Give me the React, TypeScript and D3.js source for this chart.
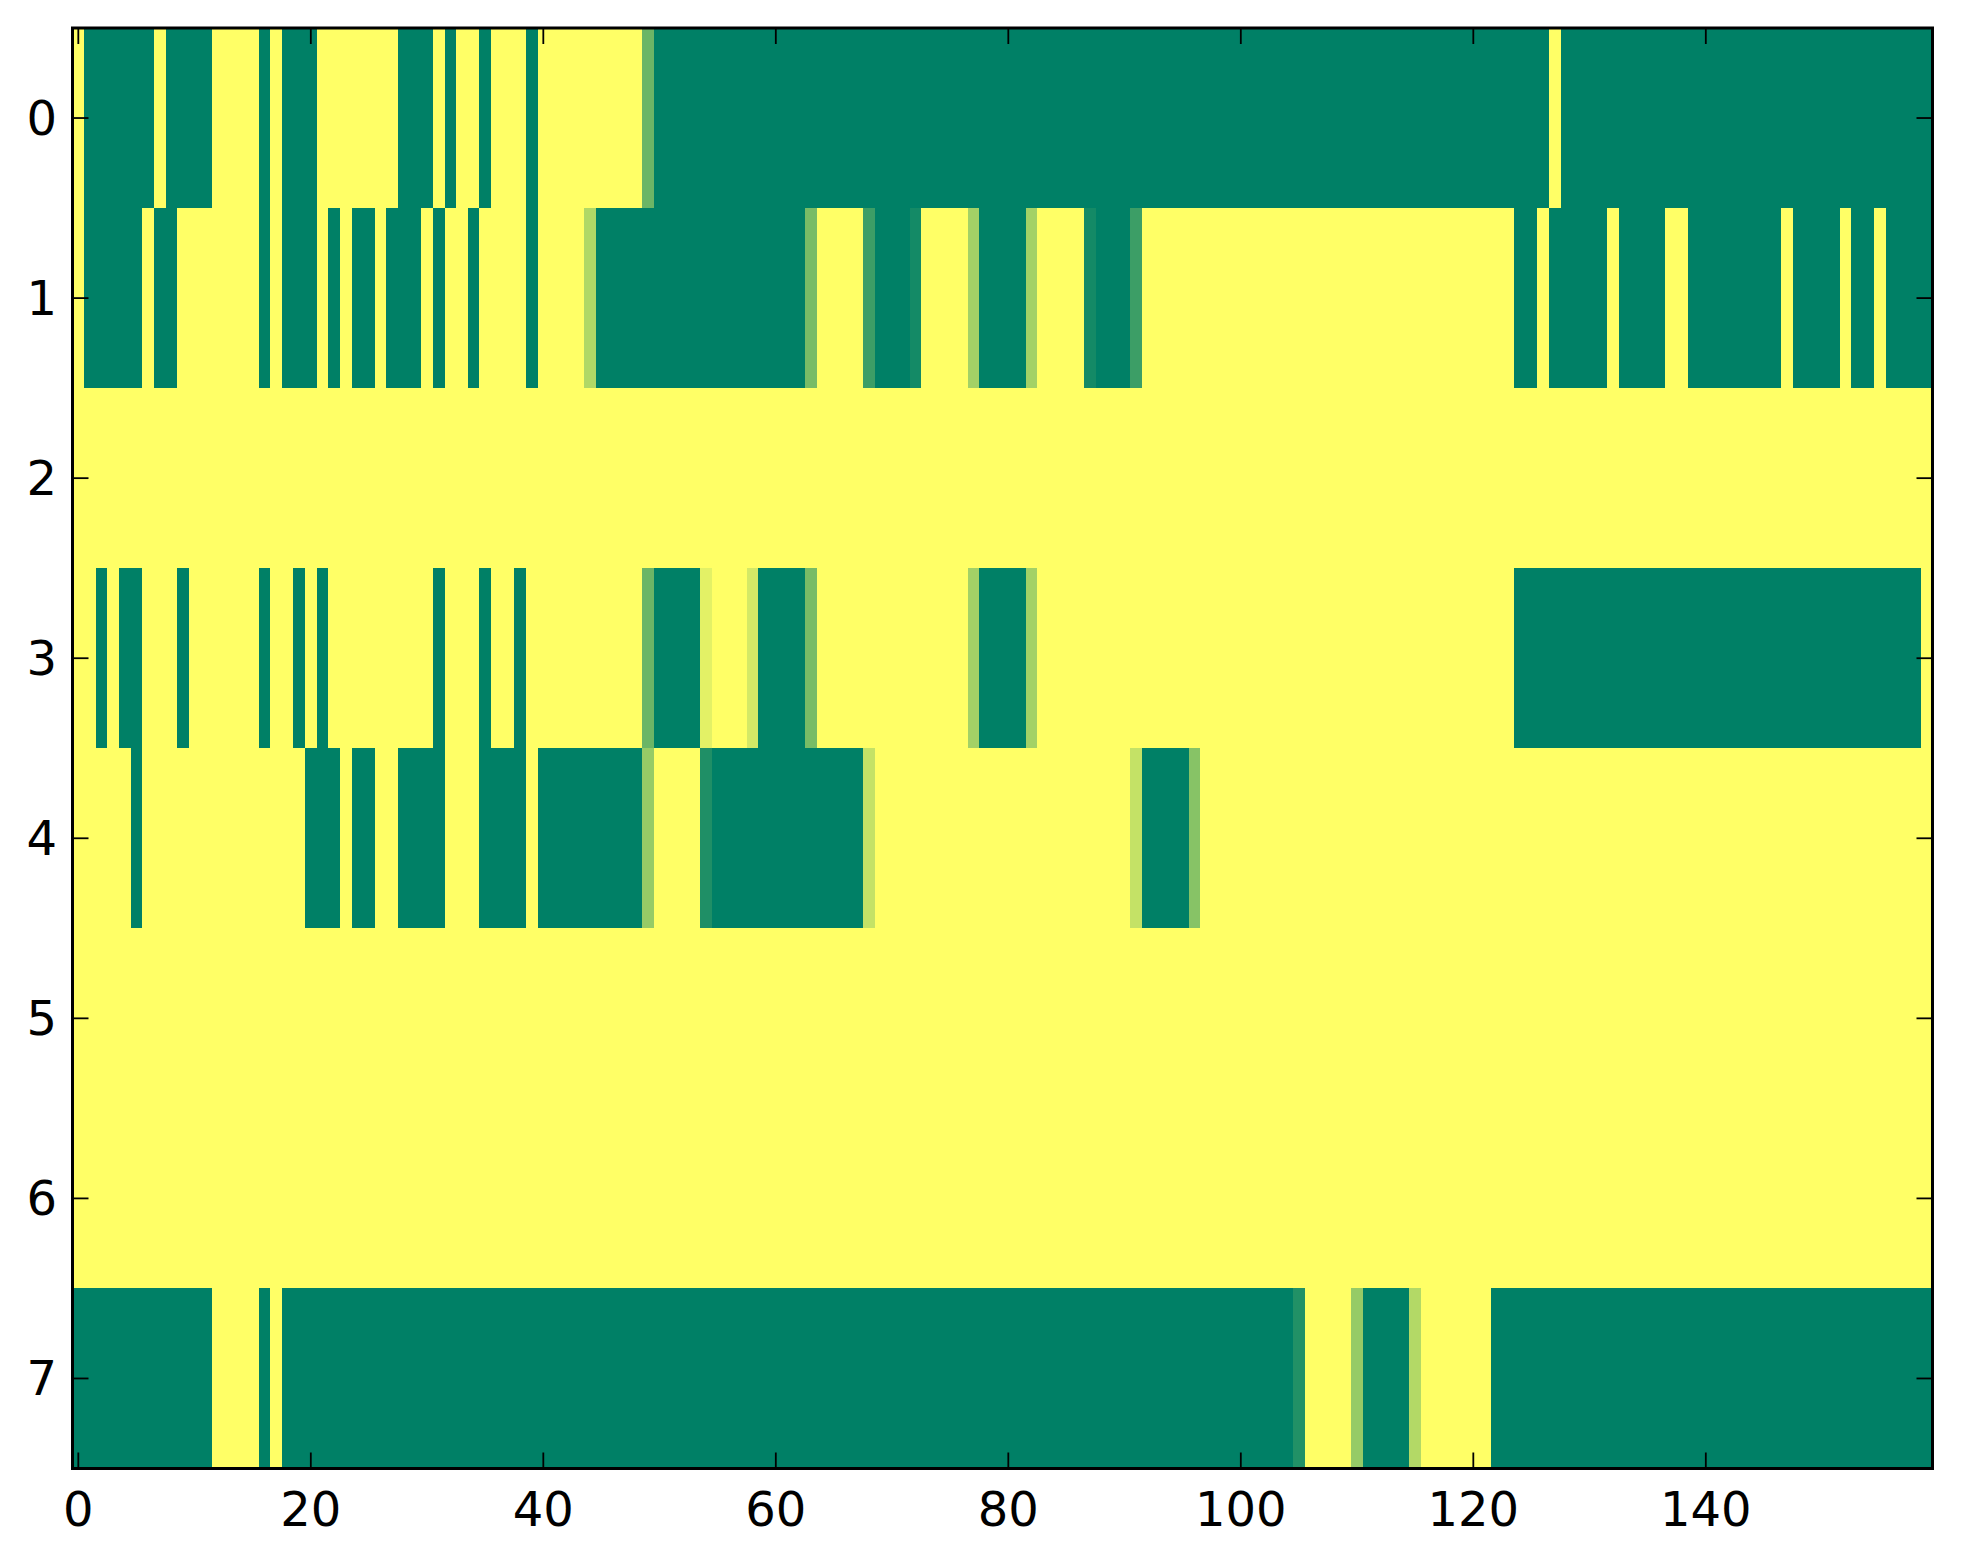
import React from "react";
import * as d3 from "d3";

// Heatmap values: 1 = yellow (high), 0 = green (low), fractions = blended cells
const row0 = [
  1,0,0,0,0,0,0,1,0,0,0,0,1,1,1,1,0,1,0,0,
  0,1,1,1,1,1,1,1,0,0,0,1,0,1,1,0,1,1,1,0,
  1,1,1,1,1,1,1,1,1,0.42,0,0,0,0,0,0,0,0,0,0,
  0,0,0,0,0,0,0,0,0,0,0,0,0,0,0,0,0,0,0,0,
  0,0,0,0,0,0,0,0,0,0,0,0,0,0,0,0,0,0,0,0,
  0,0,0,0,0,0,0,0,0,0,0,0,0,0,0,0,0,0,0,0,
  0,0,0,0,0,0,0,1,0,0,0,0,0,0,0,0,0,0,0,0,
  0,0,0,0,0,0,0,0,0,0,0,0,0,0,0,0,0,0,0,0,
];
const row1 = [
  1,0,0,0,0,0,1,0,0,1,1,1,1,1,1,1,0,1,0,0,
  0,1,0,1,0,0,1,0,0,0,1,0,1,1,0,1,1,1,1,0,
  1,1,1,1,0.69,0,0,0,0,0,0,0,0,0,0,0,0,0,0,0,
  0,0,0,0.47,1,1,1,1,0.235,0,0,0,0.08,1,1,1,1,0.64,0,0,
  0,0,0.64,1,1,1,1,0.08,0,0,0,0.235,1,1,1,1,1,1,1,1,
  1,1,1,1,1,1,1,1,1,1,1,1,1,1,1,1,1,1,1,1,
  1,1,1,1,0,0,1,0,0,0,0,0,1,0,0,0,0,1,1,0,
  0,0,0,0,0,0,0,1,0,0,0,0,1,0,0,1,0,0,0,0,
];
const row2 = [
  1,1,1,1,1,1,1,1,1,1,1,1,1,1,1,1,1,1,1,1,
  1,1,1,1,1,1,1,1,1,1,1,1,1,1,1,1,1,1,1,1,
  1,1,1,1,1,1,1,1,1,1,1,1,1,1,1,1,1,1,1,1,
  1,1,1,1,1,1,1,1,1,1,1,1,1,1,1,1,1,1,1,1,
  1,1,1,1,1,1,1,1,1,1,1,1,1,1,1,1,1,1,1,1,
  1,1,1,1,1,1,1,1,1,1,1,1,1,1,1,1,1,1,1,1,
  1,1,1,1,1,1,1,1,1,1,1,1,1,1,1,1,1,1,1,1,
  1,1,1,1,1,1,1,1,1,1,1,1,1,1,1,1,1,1,1,1,
];
const row3 = [
  1,1,0,1,0,0,1,1,1,0,1,1,1,1,1,1,0,1,1,0,
  1,0,1,1,1,1,1,1,1,1,1,0,1,1,1,0,1,1,0,1,
  1,1,1,1,1,1,1,1,1,0.42,0,0,0,0,0.89,1,1,1,0.83,0,
  0,0,0,0.47,1,1,1,1,1,1,1,1,1,1,1,1,1,0.64,0,0,
  0,0,0.64,1,1,1,1,1,1,1,1,1,1,1,1,1,1,1,1,1,
  1,1,1,1,1,1,1,1,1,1,1,1,1,1,1,1,1,1,1,1,
  1,1,1,1,0,0,0,0,0,0,0,0,0,0,0,0,0,0,0,0,
  0,0,0,0,0,0,0,0,0,0,0,0,0,0,0,0,0,0,0,1,
];
const row4 = [
  1,1,1,1,1,0,1,1,1,1,1,1,1,1,1,1,1,1,1,1,
  0,0,0,1,0,0,1,1,0,0,0,0,1,1,1,0,0,0,0,1,
  0,0,0,0,0,0,0,0,0,0.59,1,1,1,1,0.12,0,0,0,0,0,
  0,0,0,0,0,0,0,0,0.77,1,1,1,1,1,1,1,1,1,1,1,
  1,1,1,1,1,1,1,1,1,1,1,0.77,0,0,0,0,0.53,1,1,1,
  1,1,1,1,1,1,1,1,1,1,1,1,1,1,1,1,1,1,1,1,
  1,1,1,1,1,1,1,1,1,1,1,1,1,1,1,1,1,1,1,1,
  1,1,1,1,1,1,1,1,1,1,1,1,1,1,1,1,1,1,1,1,
];
const row5 = [...row2];
const row6 = [...row2];
const row7 = [
  0,0,0,0,0,0,0,0,0,0,0,0,1,1,1,1,0,1,0,0,
  0,0,0,0,0,0,0,0,0,0,0,0,0,0,0,0,0,0,0,0,
  0,0,0,0,0,0,0,0,0,0,0,0,0,0,0,0,0,0,0,0,
  0,0,0,0,0,0,0,0,0,0,0,0,0,0,0,0,0,0,0,0,
  0,0,0,0,0,0,0,0,0,0,0,0,0,0,0,0,0,0,0,0,
  0,0,0,0,0,0.13,1,1,1,1,0.59,0,0,0,0,0.7,1,1,1,1,
  1,1,0,0,0,0,0,0,0,0,0,0,0,0,0,0,0,0,0,0,
  0,0,0,0,0,0,0,0,0,0,0,0,0,0,0,0,0,0,0,0,
];

const rows = [row0, row1, row2, row3, row4, row5, row6, row7];
const xTicks = [0, 20, 40, 60, 80, 100, 120, 140];
const yTicks = [0, 1, 2, 3, 4, 5, 6, 7];

const W = 1963;
const H = 1564;
const L = 72.5, R = 1932.5, T = 28, B = 1468.5;
const FONT = "'DejaVu Sans', sans-serif";

export default function App() {
  const nCols = rows[0].length;
  const x = d3.scaleLinear().domain([-0.5, nCols - 0.5]).range([L, R]);
  const y = d3.scaleLinear().domain([-0.5, rows.length - 0.5]).range([T, B]);
  const color = d3
    .scaleLinear<string>()
    .domain([0, 1])
    .range(["#008066", "#ffff66"])
    .interpolate(d3.interpolateRgb);

  const tickLen = 16;

  return (
    <svg
      width={W}
      height={H}
      style={{ position: "absolute", left: 0, top: 0, background: "#fff" }}
    >
      <rect x={0} y={0} width={W} height={H} fill="#fff" />
      <g shapeRendering="crispEdges">
        {rows.map((row, r) =>
          row.map((v, c) => (
            <rect
              key={`${r}-${c}`}
              x={x(c - 0.5)}
              y={y(r - 0.5)}
              width={x(c + 0.5) - x(c - 0.5) + 0.6}
              height={y(r + 0.5) - y(r - 0.5) + 0.6}
              fill={color(v)}
            />
          ))
        )}
      </g>
      {/* ticks */}
      <g stroke="#000" strokeWidth={1.8}>
        {xTicks.map((t) => (
          <g key={`xt${t}`}>
            <line x1={x(t)} x2={x(t)} y1={B} y2={B - tickLen} />
            <line x1={x(t)} x2={x(t)} y1={T} y2={T + tickLen} />
          </g>
        ))}
        {yTicks.map((t) => (
          <g key={`yt${t}`}>
            <line x1={L} x2={L + tickLen} y1={y(t)} y2={y(t)} />
            <line x1={R} x2={R - tickLen} y1={y(t)} y2={y(t)} />
          </g>
        ))}
      </g>
      {/* frame */}
      <rect
        x={L}
        y={T}
        width={R - L}
        height={B - T}
        fill="none"
        stroke="#000"
        strokeWidth={3}
      />
      {/* labels */}
      <g fontFamily={FONT} fontSize={48} fill="#000">
        {xTicks.map((t) => (
          <text key={`xl${t}`} x={x(t)} y={1526} textAnchor="middle">
            {t}
          </text>
        ))}
        {yTicks.map((t) => (
          <text key={`yl${t}`} x={57} y={y(t) + 17} textAnchor="end">
            {t}
          </text>
        ))}
      </g>
    </svg>
  );
}
